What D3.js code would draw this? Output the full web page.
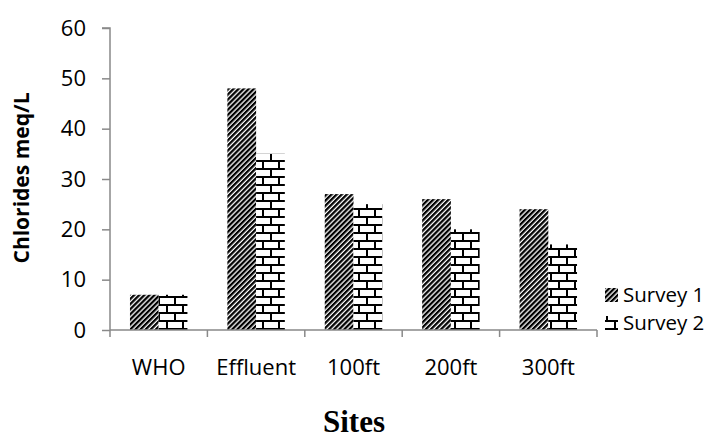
<!DOCTYPE html>
<html><head><meta charset="utf-8">
<script src="https://cdn.jsdelivr.net/npm/d3@7"></script>
<style>body{margin:0;background:#fff}</style>
</head><body>
<svg id="c" width="717" height="439"></svg>
<script>
const categories = ["WHO","Effluent","100ft","200ft","300ft"];
const seriesNames = ["Survey 1","Survey 2"];
const survey1 = [7,48,27,26,24];
const survey2 = [7,35,25,20,17];
const yTicks = [0,10,20,30,40,50,60];

const svg = d3.select("#c");
const plotL = 110, plotR = 597, plotT = 28, plotB = 330;
const axisColor = "#898989";
const font = "'Open Sans', sans-serif";

const defs = svg.append("defs");
const diag = defs.append("pattern").attr("id","diag").attr("patternUnits","userSpaceOnUse")
  .attr("width",3.6).attr("height",3.6).attr("patternTransform","rotate(45)");
diag.append("rect").attr("width",3.6).attr("height",3.6).attr("fill","#fff");
diag.append("rect").attr("width",2.3).attr("height",3.6).attr("fill","#000");

const brick = defs.append("pattern").attr("id","brick").attr("patternUnits","userSpaceOnUse")
  .attr("width",16).attr("height",16);
brick.append("rect").attr("width",16).attr("height",16).attr("fill","#fff");
brick.append("rect").attr("x",0).attr("y",0).attr("width",16).attr("height",2).attr("fill","#000");
brick.append("rect").attr("x",0).attr("y",8).attr("width",16).attr("height",2).attr("fill","#000");
brick.append("rect").attr("x",6).attr("y",0).attr("width",2).attr("height",8).attr("fill","#000");
brick.append("rect").attr("x",14).attr("y",8).attr("width",2).attr("height",8).attr("fill","#000");

const fills = ["url(#diag)","url(#brick)"];

const x = d3.scaleBand().domain(categories).range([plotL,plotR]).padding(0);
const bw = x.bandwidth();
const xs = d3.scaleBand().domain(seriesNames).range([bw*0.205, bw*0.795]).padding(0);
const y = d3.scaleLinear().domain([0,60]).range([plotB,plotT]);

const data = [survey1, survey2];
seriesNames.forEach((s,si)=>{
  svg.append("g").selectAll("rect").data(categories).join("rect")
    .attr("x",(c)=>x(c)+xs(s))
    .attr("y",(c,i)=>y(data[si][i]))
    .attr("width",xs.bandwidth())
    .attr("height",(c,i)=>y(0)-y(data[si][i]))
    .attr("fill",fills[si]);
});

// Y axis
const ya = svg.append("g").attr("transform",`translate(${plotL},0)`)
  .call(d3.axisLeft(y).tickValues(yTicks).tickSize(8).tickPadding(16));
ya.select(".domain").attr("stroke",axisColor).attr("stroke-width",1.5).attr("d",`M-8,${plotT}H0V${plotB}`);
ya.selectAll(".tick line").attr("stroke",axisColor).attr("stroke-width",1.5);
ya.selectAll(".tick text").attr("font-family",font).attr("font-size",22).attr("fill","#000");

// X axis
const xa = svg.append("g").attr("transform",`translate(0,${plotB})`)
  .call(d3.axisBottom(x).tickSize(0).tickPadding(29));
xa.select(".domain").attr("stroke",axisColor).attr("stroke-width",1.5).attr("d",`M${plotL},0H${plotR}`);
xa.selectAll(".tick text").attr("font-family",font).attr("font-size",22).attr("fill","#000");
const bounds = categories.map(c=>x(c)).concat([x(categories[categories.length-1])+bw]);
xa.selectAll(".bt").data(bounds).join("line").attr("class","bt")
  .attr("x1",d=>d).attr("x2",d=>d).attr("y1",0).attr("y2",7)
  .attr("stroke",axisColor).attr("stroke-width",1.5);

// Y title
svg.append("text").attr("transform","translate(29,178) rotate(-90)")
  .attr("text-anchor","middle").attr("font-family",font).attr("font-weight","bold")
  .attr("font-size",21).text("Chlorides meq/L");

// X title
svg.append("text").attr("x",354).attr("y",432).attr("text-anchor","middle")
  .attr("font-family","'Liberation Serif', serif").attr("font-weight","bold")
  .attr("font-size",31).text("Sites");

// Legend
const leg = svg.append("g");
seriesNames.forEach((s,i)=>{
  const ly = 302 + i*28;
  leg.append("rect").attr("x",605).attr("y",ly-14).attr("width",13).attr("height",14).attr("fill",fills[i]);
  leg.append("text").attr("x",623).attr("y",ly).attr("font-family",font).attr("font-size",20.5).text(s);
});
</script>
</body></html>
